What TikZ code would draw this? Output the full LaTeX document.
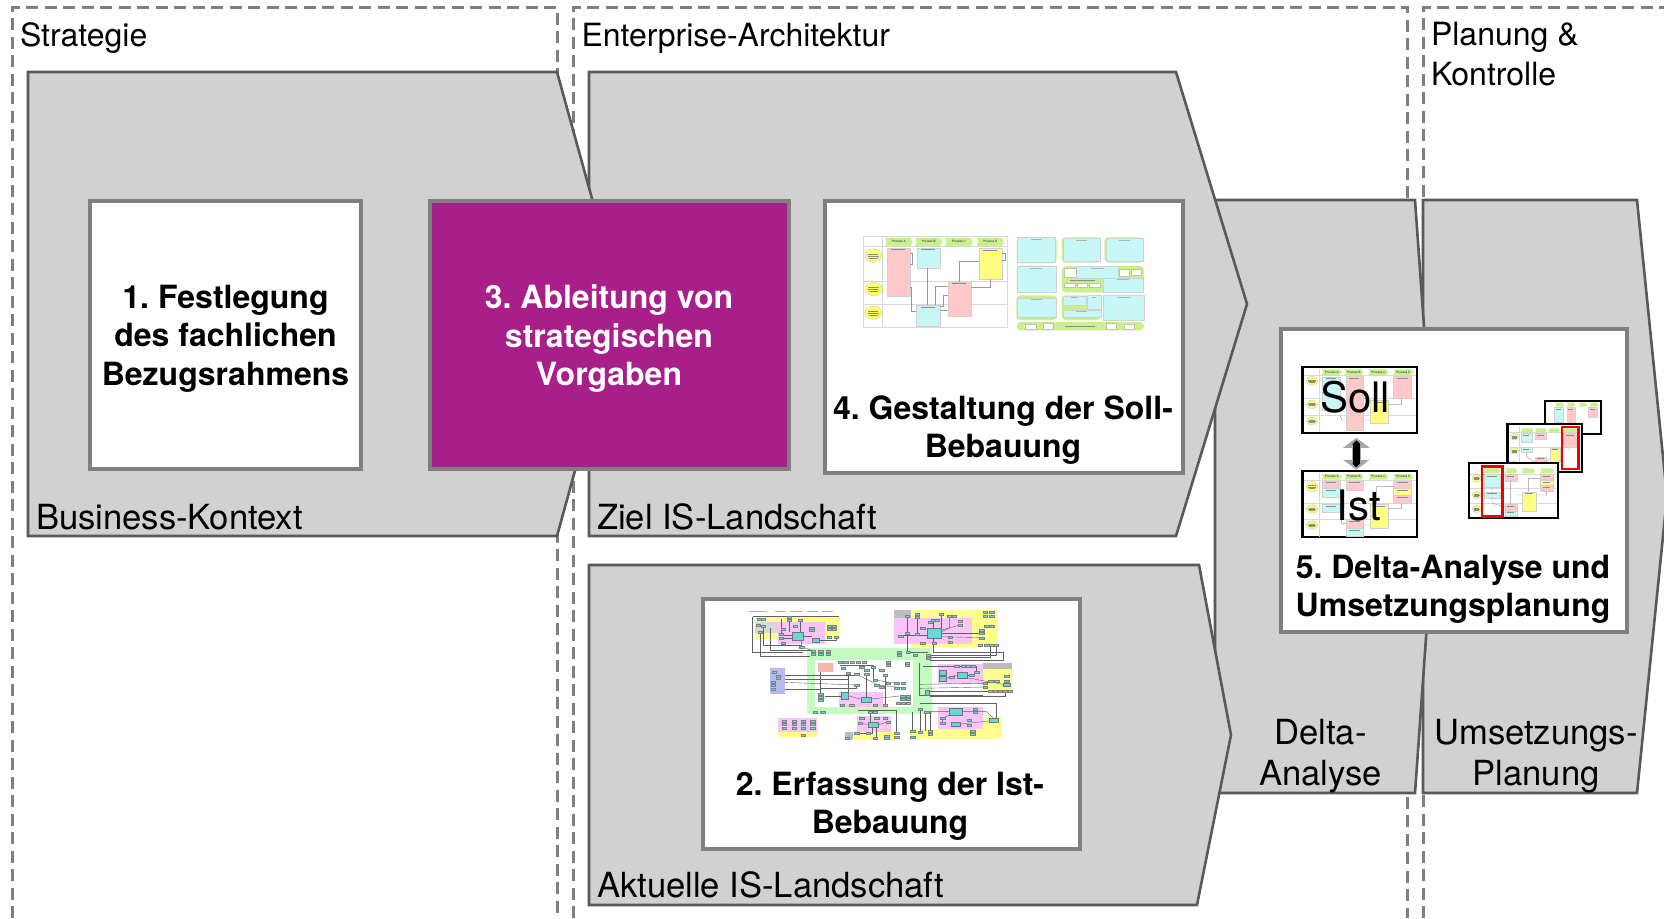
\documentclass[tikz,border=0pt]{standalone}
\usepackage{fontspec}
\setmainfont{TeX Gyre Heros}
\usetikzlibrary{arrows.meta}
\definecolor{shapefill}{HTML}{D1D1D1}
\definecolor{shapeline}{HTML}{595959}
\definecolor{boxline}{HTML}{7F7F7F}
\definecolor{purplebox}{HTML}{A91F8A}
\definecolor{tpink}{HTML}{FFC9C9}
\definecolor{tcyan}{HTML}{C6F6F6}
\definecolor{tyellow}{HTML}{FFFF7F}
\definecolor{tgreen}{HTML}{C8F08C}
\definecolor{lcyan}{HTML}{66D8D8}
\definecolor{lpink}{HTML}{FAC4F8}
\definecolor{lyellow}{HTML}{FFFF8C}
\definecolor{lgreen}{HTML}{C4FBC0}
\definecolor{lgrey}{HTML}{BDBDBD}
\definecolor{lblue}{HTML}{B9B9F2}
\definecolor{lsalmon}{HTML}{F5B5A8}
\newcounter{nn}
\tikzset{
  guide/.style={draw=boxline,line width=3pt,dash pattern=on 12pt off 6.5pt},
  arrowshape/.style={fill=shapefill,draw=shapeline,line width=2.6pt,line join=miter},
  mainbox/.style={draw=boxline,line width=4pt,fill=white,inner sep=0pt,outer sep=0pt,minimum width=#1},
  plain/.style={font=\fontsize{32}{40}\selectfont,inner sep=0pt,outer sep=0pt,align=left},
  inner/.style={font=\fontsize{34.6}{41}\selectfont,inner sep=0pt,outer sep=0pt,align=left},
  plainc/.style={font=\fontsize{34.6}{41}\selectfont,inner sep=0pt,outer sep=0pt,align=center},
  boldt/.style={font=\fontsize{32}{38.3}\selectfont\bfseries\frenchspacing,inner sep=0pt,outer sep=0pt,align=center},
  zc/.style 2 args={shift={(#1,#2)},x=0.33333pt,y=-0.33333pt},
  gridl/.style={draw=black!15,line width=0.7pt},
  frameth/.style={draw=black!15,line width=0.6pt,fill=white},
  tp/.style={fill=tpink,draw=black!18,line width=0.3pt},
  tc/.style={fill=tcyan,draw=black!18,line width=0.3pt},
  ty/.style={fill=tyellow,draw=black!18,line width=0.3pt},
  tw/.style={fill=white,draw=black!25,line width=0.3pt},
  el/.style={fill=tyellow!85!yellow,draw=black!25,line width=0.3pt},
  wire/.style={draw=black!40,line width=0.45pt},
  lwire/.style={draw=black!62,line width=0.4pt},
  mk/.style={draw=black!45,line width=0.3pt},
  blackframe/.style={draw=black,line width=2.3pt,fill=white,inner sep=0pt,outer sep=0pt},
  tinylabel/.style={font=\fontsize{3}{3.5}\selectfont,text=black!85,inner sep=0pt,outer sep=0pt},
  bigover/.style={inner sep=0pt,outer sep=0pt}
}
% chevron: x1 x2 y1 y2 label
\newcommand{\chev}[5]{%
  \stepcounter{nn}%
  \fill[tgreen] (#1,#3) -- (#2-6,#3) -- (#2,{(#3+#4)/2}) -- (#2-6,#4) -- (#1,#4) -- (#1+5,{(#3+#4)/2}) -- cycle;
  \node[tinylabel] (chev\arabic{nn}) at ({(#1+#2)/2},{(#3+#4)/2}) {#5};}
\newcommand{\rb}[5]{\path[#1] (#2,#3) rectangle (#4,#5);
  \draw[mk] ({#2+(#4-#2)*0.2},#3+5) -- ({#4-(#4-#2)*0.2},#3+5);}
\newcommand{\elp}[5]{\path[#1] (#2,#3) ellipse [x radius=#4*0.33333pt,y radius=#5*0.33333pt];
  \draw[mk] ({#2-#4*0.6},{#3-#5*0.3}) -- ({#2+#4*0.6},{#3-#5*0.3})
            ({#2-#4*0.65},#3) -- ({#2+#4*0.65},#3)
            ({#2-#4*0.5},{#3+#5*0.3}) -- ({#2+#4*0.5},{#3+#5*0.3});}
\begin{document}
\begin{tikzpicture}[x=1pt,y=-1pt]
\useasboundingbox (0,0) rectangle (1664,918);
\fill[white] (0,0) rectangle (1664,918);

% guide frames
\draw[guide] (12,918) -- (12,7) -- (557,7) -- (557,918);
\draw[guide] (573,918) -- (573,7) -- (1407,7) -- (1407,918);
\draw[guide] (1423,918) -- (1423,7) -- (1664,7);

% arrow shapes
\draw[arrowshape] (1423,200) -- (1637,200) -- (1667,496.5) -- (1637,793) -- (1423,793) -- cycle;
\draw[arrowshape] (1215,200) -- (1415,200) -- (1436,496.5) -- (1415,793) -- (1215,793) -- cycle;
\draw[arrowshape] (589,72) -- (1176,72) -- (1247,304) -- (1176,536) -- (589,536) -- cycle;
\draw[arrowshape] (28,72) -- (557,72) -- (621,303.5) -- (557,536) -- (28,536) -- cycle;
\draw[arrowshape] (589,565) -- (1199,565) -- (1231,735) -- (1197,905) -- (589,905) -- cycle;

% main boxes
\node[mainbox=271pt,minimum height=268pt] (b1) at (225.5,335) {};
\node[mainbox=358.5pt,minimum height=268pt,fill=purplebox] (b3) at (609.5,335) {};
\node[mainbox=358pt,minimum height=272pt] (b4) at (1003.7,336.5) {};
\node[mainbox=377pt,minimum height=250pt] (b2) at (891,723.5) {};
\node[mainbox=346pt,minimum height=303pt] (b5) at (1453.5,480) {};

% heading labels
\node[plain,anchor=base west] (tStrategie) at (20,46) {Strategie};
\node[plain,anchor=base west] (tEA) at (581.5,46) {Enterprise-Architektur};
\node[plain,anchor=north west] (tPK) at (1431,22) {Planung \&\\Kontrolle};
\node[inner,anchor=base west] (tBK) at (36,529) {Business-Kontext};
\node[inner,anchor=base west] (tZiel) at (597,529) {Ziel IS-Landschaft};
\node[inner,anchor=base west] (tAkt) at (597,897) {Aktuelle IS-Landschaft};
\node[plainc,anchor=north] (tDelta) at (1320.5,719) {Delta-\\Analyse};
\node[plainc,anchor=north] (tUms) at (1536,719) {Umsetzungs-\\Planung};

% step labels
\node[boldt,anchor=center] (s1) at (225.5,338.6) {1. Festlegung\\des fachlichen\\Bezugsrahmens};
\node[boldt,anchor=center,text=white] (s3) at (609,338.6) {3. Ableitung von\\strategischen\\Vorgaben};
\node[boldt,anchor=center] (s4) at (1003,430.2) {4. Gestaltung der Soll-\\Bebauung};
\node[boldt,anchor=center] (s2) at (890,806) {2. Erfassung der Ist-\\Bebauung};
\node[boldt,anchor=center] (s5) at (1453,589) {5. Delta-Analyse und\\Umsetzungsplanung};

% ---------- thumbnail in box 4
\begin{scope}[zc={830}{200}]
  \path[frameth] (100,110) rectangle (532,382);
  \draw[gridl] (100,140) -- (532,140) (100,243) -- (532,243) (100,312) -- (532,312) (158,110) -- (158,382);
  \chev{165}{248}{113}{138}{Prozess A}
  \chev{255}{337}{113}{138}{Prozess B}
  \chev{345}{428}{113}{138}{Prozess C}
  \chev{440}{522}{113}{138}{Prozess D}
  \elp{el}{130}{167}{25}{20}
  \elp{el}{131}{267}{26}{20}
  \elp{el}{130}{338}{25}{20}
  \rb{tp}{170}{143}{240}{287}
  \rb{tc}{260}{143}{329}{205}
  \rb{ty}{446}{145}{515}{238}
  \rb{tp}{353}{245}{423}{347}
  \rb{tc}{259}{316}{329}{378}
  \draw[wire] (293,205) -- (293,316);
  \draw[wire] (240,262) -- (245,262) -- (245,335) -- (259,335);
  \draw[wire] (240,160) -- (247,160) -- (247,192) -- (240,192);
  \draw[wire] (388,245) -- (388,185) -- (446,185);
  \draw[wire] (515,160) -- (525,160) -- (525,182) -- (515,182);
  \draw[wire] (480,238) -- (480,262) -- (423,262);
  \draw[wire] (317,316) -- (317,258) -- (353,258);
  \draw[wire] (329,330) -- (353,330);
  \draw[wire] (329,320) -- (340,320) -- (340,285) -- (353,285);
  \foreach \gx/\gy/\gxx/\gyy in {560/112/680/190,695/112/812/188,823/112/942/188,560/197/678/277,695/198/942/277,559/286/680/360,695/286/812/360}
    \fill[tgreen,rounded corners=4pt] (\gx,\gy) rectangle (\gxx,\gyy);
  \fill[tgreen,rounded corners=4pt] (560,366) rectangle (942,391);
  \foreach \gx/\gy/\gxx/\gyy in {562/112/675/186,700/115/810/183,828/115/938/183,560/199/678/275,738/199/865/233,818/233/940/275,562/293/678/352,698/288/768/316,771/286/812/328,698/330/812/352,820/286/942/360}
    {\path[tc] (\gx,\gy) rectangle (\gxx,\gyy);
     \draw[mk,draw=black!30] ({\gx+(\gxx-\gx)*0.35},\gy+4) -- ({\gxx-(\gxx-\gx)*0.35},\gy+4);}
  \foreach \gx/\gy/\gxx/\gyy in {703/205/738/232,867/207/897/227,904/208/934/226,703/248/735/262,741/248/770/262,777/248/810/262,585/372/617/386,638/370/670/386,827/370/859/386,882/372/912/386}
    \path[tw] (\gx,\gy) rectangle (\gxx,\gyy);
  \draw[mk] (705,378) -- (795,378) (720,240) -- (795,240);
\end{scope}

% ---------- thumbnail in box 2
\begin{scope}[zc={700}{595}]
  \fill[lyellow] (165,65) rectangle (420,132);
  \fill[lgrey!60] (165,80) rectangle (235,115);
  \fill[lpink] (235,82) rectangle (375,148);
  \fill[lyellow] (633,46) rectangle (893,155);
  \fill[lgrey] (581,46) rectangle (633,70);
  \fill[lpink] (581,70) rectangle (816,148);
  \fill[lgreen] (322,160) rectangle (695,356);
  \fill[white] (346,195) rectangle (638,335);
  \fill[lsalmon] (355,203) rectangle (400,230);
  \fill[lpink] (418,290) rectangle (548,335);
  \fill[lblue] (211,220) rectangle (255,298);
  \fill[lyellow] (850,222) rectangle (935,292);
  \fill[lgrey] (850,205) rectangle (935,222);
  \fill[lpink] (714,208) rectangle (850,268);
  \fill[lpink] (235,370) rectangle (352,410);
  \fill[lyellow] (235,410) rectangle (352,426);
  \fill[lyellow] (458,410) rectangle (598,435);
  \fill[lgrey] (435,410) rectangle (458,435);
  \fill[lpink] (470,362) rectangle (572,410);
  \fill[lyellow] (630,403) rectangle (905,432);
  \fill[lyellow] (850,365) rectangle (905,403);
  \fill[lpink] (714,335) rectangle (850,403);
  \fill[black!30] (148,47) rectangle (200,51);
  \fill[black!30] (226,47) rectangle (256,51);
  \fill[black!30] (270,47) rectangle (310,51);
  \fill[black!30] (320,47) rectangle (355,51);
  \fill[black!30] (362,47) rectangle (400,51);
  % wires
  \draw[lwire] (158,65) -- (158,172) -- (310,172);
  \draw[lwire] (180,112) -- (180,185) -- (330,185);
  \draw[lwire] (158,65) -- (418,65);
  \draw[lwire] (190,92) -- (190,150) -- (305,150);
  \draw[lwire] (210,100) -- (210,165) -- (345,165);
  \draw[lwire] (245,72) -- (245,120) -- (275,120);
  \draw[lwire] (268,75) -- (268,112);
  \draw[lwire] (300,75) -- (300,112);
  \draw[lwire] (250,130) -- (275,130);
  \draw[lwire] (308,125) -- (335,125);
  \draw[lwire] (358,135) -- (408,135) -- (408,126);
  \draw[lwire] (305,134) -- (305,155) -- (340,168);
  \draw[lwire] (622,62) -- (622,172) -- (685,172);
  \draw[lwire] (652,65) -- (652,118);
  \draw[lwire] (724,57) -- (724,100);
  \draw[lwire] (748,62) -- (748,100) -- (724,110);
  \draw[lwire] (780,90) -- (724,105);
  \draw[lwire] (724,115) -- (845,115);
  \draw[lwire] (724,125) -- (845,128);
  \draw[lwire] (700,75) -- (700,100);
  \draw[lwire] (602,122) -- (682,122);
  \draw[lwire] (700,128) -- (700,172) -- (910,172) -- (910,195) -- (690,195);
  \draw[lwire] (685,180) -- (890,180) -- (890,150);
  \draw[lwire] (685,188) -- (870,188) -- (870,150);
  \draw[lwire] (255,240) -- (470,240);
  \draw[lwire] (255,252) -- (445,252);
  \draw[lwire] (255,262) -- (470,270);
  \draw[lwire] (255,282) -- (362,282) -- (362,296);
  \draw[lwire] (362,232) -- (362,280) -- (470,280) -- (470,270);
  \draw[lwire] (375,305) -- (424,305);
  \draw[lwire] (444,302) -- (482,312);
  \draw[lwire] (500,238) -- (500,305);
  \draw[lwire] (470,238) -- (545,275);
  \draw[lwire] (525,255) -- (590,265);
  \draw[lwire] (530,270) -- (610,278);
  \draw[lwire] (512,312) -- (608,302);
  \draw[lwire] (420,210) -- (520,210) -- (520,255);
  \draw[lwire] (445,235) -- (445,290);
  \draw[lwire] (555,240) -- (555,330);
  \draw[lwire] (658,205) -- (658,300) -- (850,300);
  \draw[lwire] (670,215) -- (830,215) -- (830,232);
  \draw[lwire] (660,280) -- (855,276);
  \draw[lwire] (660,268) -- (855,265);
  \draw[lwire] (690,290) -- (870,290) ;
  \draw[lwire] (690,303) -- (915,303) -- (915,288);
  \draw[lwire] (738,250) -- (770,240);
  \draw[lwire] (800,240) -- (815,240);
  \draw[lwire] (800,248) -- (908,268);
  \draw[lwire] (660,325) -- (890,325) -- (890,369);
  \draw[lwire] (680,350) -- (860,350) -- (880,369);
  \draw[lwire] (660,342) -- (660,410);
  \draw[lwire] (675,350) -- (675,408);
  \draw[lwire] (690,352) -- (690,408);
  \draw[lwire] (728,368) -- (728,385) (748,360) -- (728,370);
  \draw[lwire] (780,387) -- (868,378);
  \draw[lwire] (638,350) -- (638,408);
  \draw[lwire] (475,345) -- (590,345) -- (590,415);
  \draw[lwire] (510,351) -- (510,380);
  \draw[lwire] (480,385) -- (503,388);
  \draw[lwire] (533,390) -- (565,380);
  \draw[lwire] (518,396) -- (518,415) -- (470,415);
  \draw[lwire] (530,396) -- (530,430);
  % large boxes
  \foreach \gx/\gy/\gxx/\gyy in {275/112/308/134,335/128/358/142,682/100/724/128,482/305/512/320,424/292/444/312,770/232/800/248,716/226/738/240,716/243/738/257,908/264/930/274,748/338/786/360,752/380/780/394,868/369/894/382,503/380/533/396,676/285/688/300}
    \path[fill=lcyan,draw=black!55,line width=0.35pt] (\gx,\gy) rectangle (\gxx,\gyy);
  % small boxes
  \foreach \a/\b in {178/73,190/73,268/67,268/75,300/75,175/90,190/92,181/112,250/102,285/92,335/98,335/105,243/118,243/130,250/145,388/92,402/92,388/102,402/102,388/126,408/126,305/155,340/168,362/168,385/168,340/178,362/178,385/178,
    622/62,652/57,652/65,748/62,762/62,724/57,855/52,875/52,855/62,875/62,780/78,780/90,700/75,712/75,690/82,668/100,652/118,622/115,602/122,668/143,702/145,750/125,750/140,845/105,860/92,875/92,845/115,845/128,840/150,860/150,875/150,888/150,598/170,598/180,625/172,645/180,685/180,685/188,
    420/200,437/200,457/200,475/200,493/200,565/200,565/210,622/203,622/210,485/215,500/225,500/238,430/218,445/235,470/238,520/215,545/225,555/240,470/270,525/255,530/270,545/275,565/265,590/265,610/265,590/278,610/278,362/296,362/305,362/314,427/330,455/330,525/330,555/330,608/302,625/302,608/312,625/312,595/325,610/325,625/325,345/350,368/350,
    222/232,235/242,235/250,220/262,220/270,220/282,
    770/212,790/212,805/212,820/212,815/240,830/232,755/245,872/258,890/258,920/243,920/258,855/265,855/276,870/288,885/288,900/288,915/288,930/288,
    253/378,282/378,310/378,338/378,253/388,282/388,310/388,338/388,253/398,282/398,310/398,338/398,310/420,
    510/351,525/351,485/368,530/368,555/368,480/385,565/380,470/415,505/415,560/422,590/415,590/425,525/430,442/430,560/430,
    660/342,680/350,825/343,825/350,728/368,728/385,808/375,808/390,818/408,818/418,660/410,690/408,690/416,638/408,638/425}
    \path[fill=lcyan,draw=black!50,line width=0.25pt] (\a-6.5,\b-3) rectangle (\a+6.5,\b+3);
\end{scope}

% ---------- thumbnails in box 5
\node[blackframe,minimum width=114.7pt,minimum height=66pt] (soll) at (1359.7,400.3) {};
\node[blackframe,minimum width=114.7pt,minimum height=66pt] (ist) at (1359.7,504.3) {};
\begin{scope}[zc={1280}{325}]
  % Soll
  \draw[gridl] (71,152) -- (407,152) (71,220) -- (407,220) (71,270) -- (407,270) (118,131) -- (118,321);
  \chev{125}{185}{133}{150}{Prozess A}
  \chev{193}{250}{133}{150}{Prozess B}
  \chev{265}{325}{133}{150}{Prozess C}
  \chev{340}{400}{133}{150}{Prozess D}
  \elp{el}{96}{168}{18}{13}
  \elp{el}{96}{238}{17}{13}
  \elp{el}{96}{288}{17}{12}
  \rb{tc}{127}{155}{180}{255}
  \rb{tp}{197}{153}{248}{315}
  \rb{ty}{270}{225}{325}{295}
  \rb{tp}{340}{153}{394}{220}
  \draw[wire] (180,270) -- (185,285) -- (197,285) (248,285) -- (270,285) (325,238) -- (365,238) -- (365,220);
  % Ist
  \draw[gridl] (71,466) -- (407,466) (71,535) -- (407,535) (71,583) -- (407,583) (118,445) -- (118,635);
  \chev{125}{185}{447}{464}{Prozess A}
  \chev{193}{250}{447}{464}{Prozess B}
  \chev{265}{325}{447}{464}{Prozess C}
  \chev{340}{400}{447}{464}{Prozess D}
  \elp{el}{96}{485}{18}{15}
  \elp{el}{96}{552}{17}{13}
  \elp{el}{96}{600}{17}{13}
  \rb{tp}{127}{467}{180}{490}
  \rb{tc}{127}{490}{180}{515}
  \rb{tc}{127}{537}{180}{562}
  \rb{tp}{197}{467}{250}{495}
  \rb{tp}{197}{583}{250}{610}
  \rb{tc}{197}{610}{250}{632}
  \rb{tp}{340}{467}{394}{490}
  \rb{ty}{340}{490}{394}{510}
  \rb{tp}{340}{510}{394}{535}
  \rb{ty}{270}{537}{325}{610}
  \draw[wire] (180,550) -- (185,595) -- (197,595) (250,600) -- (270,600) (325,550) -- (365,550) -- (365,535) (290,537) -- (290,485) -- (340,485);
\end{scope}

% double arrow between the Soll and Ist pictures
\draw[line width=9.3pt,draw=black!35,{Triangle[length=10pt,width=26pt]}-{Triangle[length=10pt,width=26pt]}]
  ([xshift=-3.4pt,yshift=-4.5pt]soll.south) -- ([xshift=-3.4pt,yshift=1.5pt]ist.north);
\draw[line width=6.4pt,draw=black,{Triangle[length=4pt,width=8pt]}-{Triangle[length=4pt,width=8pt]}]
  ([xshift=-3.4pt,yshift=-7pt]soll.south) -- ([xshift=-3.4pt,yshift=4pt]ist.north);

\node[bigover,font=\fontsize{42}{42}\selectfont,anchor=base] (tSoll) at (1355,412) {Soll};
\node[bigover,font=\fontsize{42}{42}\selectfont,anchor=base] (tIst) at (1359,520) {Ist};

% stacked pictures
\begin{scope}[zc={1280}{325}]
  % back
  \path[blackframe] (795,227) rectangle (962,327);
  \chev{825}{852}{233}{245}{}
  \chev{860}{887}{233}{245}{}
  \chev{895}{922}{233}{245}{}
  \chev{928}{955}{233}{245}{}
  \rb{tc}{823}{247}{848}{290}
  \rb{tp}{860}{247}{885}{300}
  \rb{tp}{925}{247}{950}{275}
  % middle
  \path[blackframe] (682,298) rectangle (905,440);
  \draw[gridl] (686,323) -- (901,323) (686,368) -- (901,368) (718,302) -- (718,436);
  \chev{722}{760}{310}{322}{}
  \chev{765}{800}{310}{322}{}
  \chev{805}{840}{310}{322}{}
  \chev{850}{890}{310}{322}{}
  \elp{el}{703}{335}{13}{10}
  \elp{el}{703}{377}{13}{10}
  \elp{el}{703}{418}{13}{10}
  \rb{tc}{722}{325}{755}{352}
  \rb{tc}{722}{367}{755}{382}
  \rb{tp}{765}{325}{798}{342}
  \rb{ty}{810}{368}{840}{412}
  \rb{tp}{765}{395}{798}{430}
  \rb{tp}{850}{325}{890}{365}
  \draw[wire] (740,382) -- (740,395) -- (765,412) (798,412) -- (810,400) (840,375) -- (870,375) -- (870,365);
  \path[draw=red!95!black,line width=2.6pt] (846,306) rectangle (895,432);
  % front
  \path[blackframe] (567,415) rectangle (834,580);
  \draw[gridl] (571,447) -- (830,447) (571,490) -- (830,490) (571,535) -- (830,535) (605,419) -- (605,576);
  \chev{612}{660}{430}{445}{}
  \chev{675}{712}{430}{445}{}
  \chev{725}{765}{430}{445}{}
  \chev{780}{822}{430}{445}{}
  \elp{el}{590}{460}{14}{12}
  \elp{el}{590}{510}{14}{11}
  \elp{el}{590}{552}{14}{11}
  \rb{tc}{612}{447}{660}{485}
  \rb{tc}{612}{500}{660}{518}
  \rb{tp}{675}{447}{710}{467}
  \rb{tp}{675}{538}{710}{557}
  \rb{tc}{675}{557}{710}{574}
  \rb{ty}{725}{500}{768}{557}
  \rb{tp}{780}{447}{818}{463}
  \rb{ty}{780}{465}{818}{480}
  \rb{tp}{780}{480}{818}{498}
  \draw[wire] (636,485) -- (636,500) (636,518) -- (636,535) -- (675,545) (692,467) -- (692,538) (710,510) -- (725,510) (768,510) -- (800,510) -- (800,498) (745,500) -- (745,460) -- (780,460);
  \path[draw=red!95!black,line width=2.8pt] (606,424) rectangle (668,574);
\end{scope}
\end{tikzpicture}
\end{document}
